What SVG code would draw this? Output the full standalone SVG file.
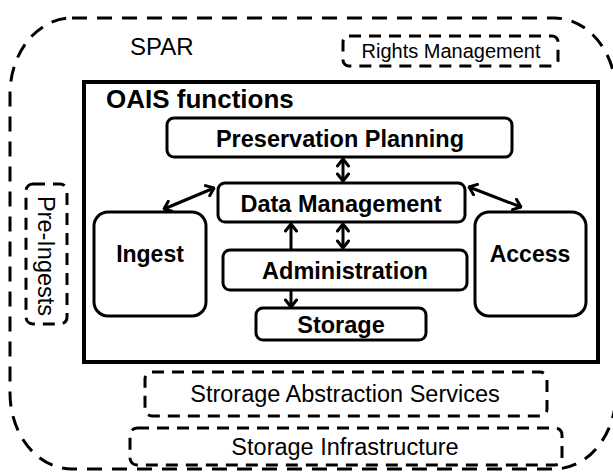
<svg xmlns="http://www.w3.org/2000/svg" width="613" height="475" viewBox="0 0 613 475">
<defs>
<marker id="ah" viewBox="0 0 14 14" refX="12.5" refY="7" markerWidth="14" markerHeight="14" markerUnits="userSpaceOnUse" orient="auto-start-reverse">
<path d="M5.5,1.5 L12.5,7 L5.5,12.5" fill="none" stroke="#000" stroke-width="3" stroke-linecap="round" stroke-linejoin="round"/>
</marker>
</defs>
<style>
.dash{fill:none;stroke:#000;stroke-width:3;stroke-dasharray:15 10}
.sd{stroke-dasharray:12 8}
.box{fill:#fff;stroke:#000;stroke-width:3}
.t{font-family:"Liberation Sans",Arial,sans-serif;fill:#000}
.b{font-family:"Liberation Sans",Arial,sans-serif;font-weight:bold;fill:#000;text-anchor:middle}
.n{font-family:"Liberation Sans",Arial,sans-serif;fill:#000;text-anchor:middle}
.c{fill:none;stroke:#000;stroke-width:3}
</style>
<rect width="613" height="475" fill="#fff"/>
<g id="spar">
<rect class="dash" x="10" y="18" width="606" height="451" rx="62" ry="76"/>
<text class="t" x="130" y="55" font-size="24">SPAR</text>
</g>
<g id="rights">
<rect class="dash sd" x="343" y="36" width="215" height="30" rx="6"/>
<text class="n" x="451" y="58" font-size="20">Rights Management</text>
</g>
<g id="preingests">
<rect class="dash sd" x="26" y="184" width="41" height="140" rx="7"/>
<text class="n" transform="translate(38,256) rotate(90)" font-size="23.5">Pre-Ingests</text>
</g>
<g id="oais">
<rect x="84" y="82" width="514" height="280" fill="none" stroke="#000" stroke-width="4"/>
<text class="t" x="106" y="108" font-size="26" font-weight="bold">OAIS functions</text>
</g>
<g id="pp">
<rect class="box" x="167" y="118" width="345" height="39" rx="7"/>
<text class="b" x="340" y="146.5" font-size="23.5">Preservation Planning</text>
</g>
<g id="dm">
<rect class="box" x="218" y="183" width="247" height="39" rx="7"/>
<text class="b" x="341" y="211.5" font-size="23.5">Data Management</text>
</g>
<g id="admin">
<rect class="box" x="223" y="250" width="244" height="40" rx="7"/>
<text class="b" x="345" y="278.5" font-size="23.5">Administration</text>
</g>
<g id="storage">
<rect class="box" x="256" y="308" width="170" height="32" rx="7"/>
<text class="b" x="341" y="333" font-size="23.5">Storage</text>
</g>
<g id="ingest">
<rect class="box" x="94" y="212" width="112" height="104" rx="14"/>
<text class="b" x="150" y="262" font-size="23">Ingest</text>
</g>
<g id="access">
<rect class="box" x="475" y="212" width="111" height="104" rx="14"/>
<text class="b" x="530" y="262" font-size="23">Access</text>
</g>
<g id="sas">
<rect class="dash sd" x="145" y="372" width="402" height="44" rx="7"/>
<text class="n" x="345" y="402" font-size="23.5">Strorage Abstraction Services</text>
</g>
<g id="si">
<rect class="dash sd" x="130" y="428" width="432" height="37" rx="7"/>
<text class="n" x="345" y="455" font-size="23.5">Storage Infrastructure</text>
</g>
<g id="connectors">
<line class="c" x1="343" y1="159" x2="343" y2="181" marker-start="url(#ah)" marker-end="url(#ah)"/>
<line class="c" x1="164" y1="209" x2="214" y2="188" marker-start="url(#ah)" marker-end="url(#ah)"/>
<line class="c" x1="469" y1="187" x2="521" y2="207" marker-start="url(#ah)" marker-end="url(#ah)"/>
<line class="c" x1="343" y1="224" x2="343" y2="248" marker-start="url(#ah)" marker-end="url(#ah)"/>
<line class="c" x1="291" y1="249" x2="291" y2="224" marker-end="url(#ah)"/>
<line class="c" x1="291" y1="291" x2="291" y2="307" marker-end="url(#ah)"/>
</g>
</svg>
